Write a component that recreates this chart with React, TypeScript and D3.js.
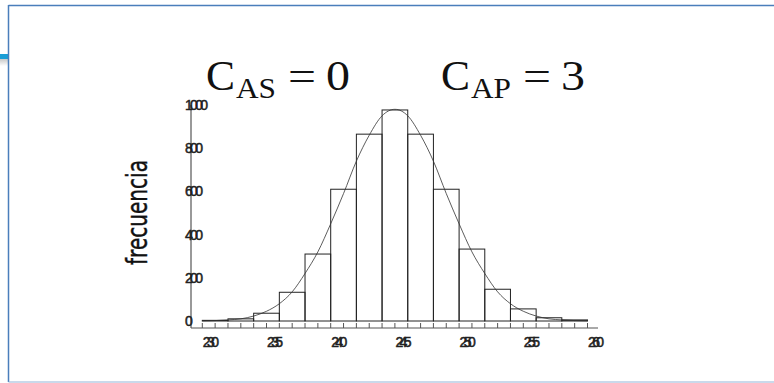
import React from "react";
import * as d3 from "d3";

// Histogram bins (lower edge of each 2-unit class) and their frequencies
const binStarts = [230, 232, 234, 236, 238, 240, 242, 244, 246, 248, 250, 252, 254, 256, 258];
const binWidth = 2;
const frequencies = [3, 10, 36, 133, 310, 610, 865, 977, 865, 610, 333, 147, 56, 15, 5];

// Fitted normal curve, sampled at each unit
const curveX = [230, 231, 232, 233, 234, 235, 236, 237, 238, 239, 240, 241, 242, 243, 244, 245, 246, 247, 248, 249, 250, 251, 252, 253, 254, 255, 256, 257, 258, 259, 260];
const curveY = [1, 2, 5, 10, 23, 45, 80, 135, 220, 320, 450, 590, 740, 860, 950, 980, 950, 860, 740, 590, 450, 320, 220, 135, 80, 45, 23, 10, 5, 2, 1];

const xTickLabels = [230, 235, 240, 245, 250, 255, 260];
const yTickLabels = [0, 200, 400, 600, 800, 1000];

const W = 774;
const H = 383;

const serif = "'Liberation Serif', 'Times New Roman', serif";
const tickFont = "'Liberation Sans', Arial, sans-serif";

// One coefficient label: big "C", subscript, "=", value
function Coef({ x0, sub, value }: { x0: number; sub: string; value: string }) {
  const common = { fontFamily: serif, fill: "#111", lengthAdjust: "spacingAndGlyphs" as const };
  return (
    <g>
      <text x={x0} y={90} fontSize={42} textLength={29} {...common}>C</text>
      <text x={x0 + 30} y={98} fontSize={29} textLength={40} {...common}>{sub}</text>
      <text x={x0 + 82} y={90} fontSize={42} textLength={28} {...common}>=</text>
      <text x={x0 + 120} y={90} fontSize={42} textLength={24} {...common}>{value}</text>
    </g>
  );
}

export default function App() {
  const x = d3.scaleLinear().domain([230, 260]).range([202.3, 587.5]);
  const y = d3.scaleLinear().domain([0, 1000]).range([321, 105]);

  const minorTicks = d3.range(230, 261, 1);

  const line = d3
    .line<number>()
    .x((_, i) => x(curveX[i]))
    .y((d) => y(d))
    .curve(d3.curveMonotoneX);

  const axisX0 = 191;
  const axisX1 = 598;
  const axisY = 328;

  return (
    <svg
      width={W}
      height={H}
      viewBox={`0 0 ${W} ${H}`}
      style={{ position: "fixed", left: 0, top: 0, background: "#fff" }}
    >
      <defs>
        <linearGradient id="tabShade" x1="0" y1="0" x2="0" y2="1">
          <stop offset="0" stopColor="#c8c8c8" />
          <stop offset="1" stopColor="#ffffff" />
        </linearGradient>
      </defs>

      {/* side tab */}
      <rect x={0} y={54} width={8} height={5} fill="#1a9ed6" />
      <rect x={0} y={59} width={8} height={7} fill="url(#tabShade)" />

      {/* frame */}
      <line x1={8.5} y1={5.5} x2={W} y2={5.5} stroke="#4a7ebb" strokeWidth={1.5} />
      <line x1={8.5} y1={5} x2={8.5} y2={382} stroke="#4a7ebb" strokeWidth={1.5} />
      <line x1={8.5} y1={382} x2={W} y2={382} stroke="#95b3d7" strokeWidth={1.2} />

      {/* title */}
      <Coef x0={206} sub="AS" value="0" />
      <Coef x0={441} sub="AP" value="3" />

      {/* y axis title */}
      <text
        transform="translate(146.5,212.5) rotate(-90)"
        textAnchor="middle"
        fontFamily="'DejaVu Sans', sans-serif"
        fontSize={28}
        textLength={105}
        lengthAdjust="spacingAndGlyphs"
        fill="#111"
        stroke="#111"
        strokeWidth={0.4}
      >
        frecuencia
      </text>

      {/* histogram bars */}
      {binStarts.map((b, i) => (
        <rect
          key={b}
          x={x(b)}
          y={y(frequencies[i])}
          width={x(b + binWidth) - x(b)}
          height={y(0) - y(frequencies[i])}
          fill="none"
          stroke="#222"
          strokeWidth={1}
        />
      ))}

      {/* fitted curve */}
      <path d={line(curveY) || ""} fill="none" stroke="#333" strokeWidth={0.8} />

      {/* axes */}
      <line x1={axisX0} y1={105} x2={axisX0} y2={axisY} stroke="#555" strokeWidth={1.2} />
      <line x1={axisX0} y1={axisY} x2={axisX1} y2={axisY} stroke="#555" strokeWidth={1.2} />
      {minorTicks.map((t) => (
        <line key={t} x1={x(t)} y1={axisY} x2={x(t)} y2={axisY - 5} stroke="#555" strokeWidth={1} />
      ))}

      {xTickLabels.map((t) => (
        <text
          key={t}
          x={x(t) + 0.5}
          y={347}
          fontFamily={tickFont}
          fontSize={14}
          letterSpacing={-3.6}
          fill="#222"
          stroke="#222"
          strokeWidth={0.5}
        >
          {t}
        </text>
      ))}
      {yTickLabels.map((t) => (
        <text
          key={t}
          x={185}
          y={y(t) + 5}
          fontFamily={tickFont}
          fontSize={14}
          letterSpacing={-2.7}
          fill="#222"
          stroke="#222"
          strokeWidth={0.5}
        >
          {t}
        </text>
      ))}
    </svg>
  );
}
